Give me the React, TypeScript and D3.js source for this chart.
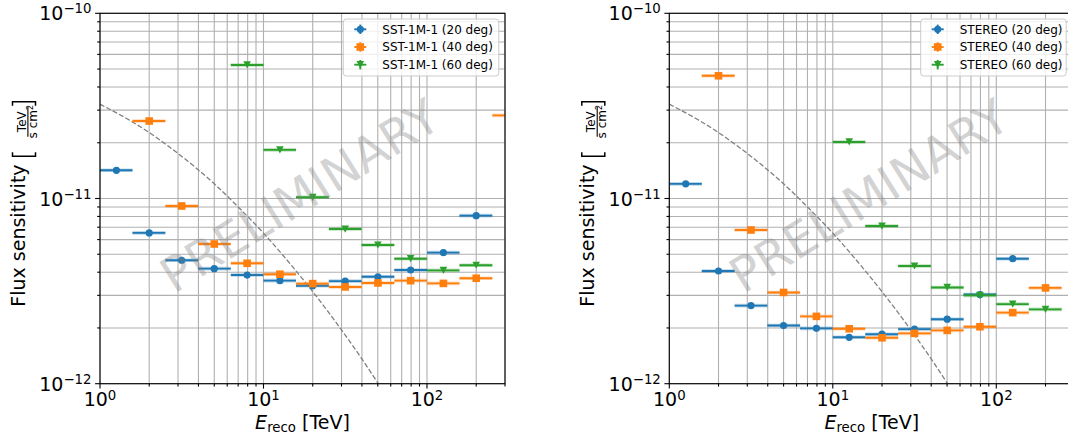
import React from "react";
import * as d3 from "d3";

// ---------- data ----------
const binCenter = [1.26, 2.0, 3.16, 5.0, 7.94, 12.6, 20.0, 31.6, 50.1, 79.4, 126, 200, 316];
const binLow = [1.0, 1.58, 2.51, 3.98, 6.31, 10.0, 15.8, 25.1, 39.8, 63.1, 100, 158, 251];
const binHigh = [1.58, 2.51, 3.98, 6.31, 10.0, 15.8, 25.1, 39.8, 63.1, 100, 158, 251, 398];

const sst20 = [1.42e-11, 6.52e-12, 4.64e-12, 4.18e-12, 3.86e-12, 3.6e-12, 3.38e-12, 3.58e-12, 3.78e-12, 4.11e-12, 5.1e-12, 8.08e-12, null];
const sst40 = [null, 2.62e-11, 9.11e-12, 5.68e-12, 4.47e-12, 3.9e-12, 3.47e-12, 3.33e-12, 3.5e-12, 3.6e-12, 3.48e-12, 3.71e-12, 2.81e-11];
const sst60 = [null, null, null, null, 5.26e-11, 1.83e-11, 1.015e-11, 6.84e-12, 5.61e-12, 4.73e-12, 4.09e-12, 4.36e-12, null];

const stereo20 = [1.2e-11, 4.06e-12, 2.64e-12, 2.06e-12, 1.99e-12, 1.78e-12, 1.85e-12, 1.97e-12, 2.23e-12, 3.03e-12, 4.73e-12, null, null];
const stereo40 = [null, 4.6e-11, 6.76e-12, 3.11e-12, 2.31e-12, 1.98e-12, 1.77e-12, 1.87e-12, 1.94e-12, 2.03e-12, 2.42e-12, 3.29e-12, null];
const stereo60 = [null, null, null, null, null, 2.02e-11, 7.1e-12, 4.32e-12, 3.31e-12, 3.0e-12, 2.69e-12, 2.52e-12, null];

const sstLabels = ["SST-1M-1 (20 deg)", "SST-1M-1 (40 deg)", "SST-1M-1 (60 deg)"];
const stereoLabels = ["STEREO (20 deg)", "STEREO (40 deg)", "STEREO (60 deg)"];

// dashed reference curve
const refEnergy = [1, 1.5, 2, 3, 5, 7, 10, 15, 20, 30, 40, 50, 60];
const refFlux = [3.23e-11, 2.66e-11, 2.27e-11, 1.75e-11, 1.2e-11, 9.0e-12, 6.5e-12, 4.3e-12, 3.14e-12, 1.95e-12, 1.36e-12, 1.01e-12, 7.9e-13];

const xMajor = [1, 10, 100];
const xMajorExp = ["0", "1", "2"];
const xMinor = [2, 3, 4, 5, 6, 7, 8, 9, 20, 30, 40, 50, 60, 70, 80, 90, 200, 300];
const yMajor = [1e-12, 1e-11, 1e-10];
const yMajorExp = ["\u221212", "\u221211", "\u221210"];
const yMinor = [2e-12, 3e-12, 4e-12, 5e-12, 6e-12, 7e-12, 8e-12, 9e-12, 2e-11, 3e-11, 4e-11, 5e-11, 6e-11, 7e-11, 8e-11, 9e-11];

// ---------- style ----------
const W = 1068;
const H = 438;
const Y_TOP = 13.3;
const Y_BOTTOM = 383.7;
const COLORS = ["#1f77b4", "#ff7f0e", "#2ca02c"];
const KINDS = ["circle", "square", "tri"];
const FONT = "'DejaVu Sans', sans-serif";
const GRID = "#b0b0b0";

function Marker({ kind, cx, cy, color }: { kind: string; cx: number; cy: number; color: string }) {
  if (kind === "circle") return <circle cx={cx} cy={cy} r={3.6} fill={color} />;
  if (kind === "square") return <rect x={cx - 3.8} y={cy - 3.8} width={7.6} height={7.6} fill={color} />;
  const w = 3.8;
  const h = 3.6;
  return <path d={`M${cx - w},${cy - h}L${cx + w},${cy - h}L${cx},${cy + h}Z`} fill={color} />;
}

type PanelProps = {
  left: number;
  right: number;
  series: (number | null)[][];
  labels: string[];
  legendX: number;
  legendW: number;
  id: string;
};

function Panel({ left, right, series, labels, legendX, legendW, id }: PanelProps) {
  const x = d3.scaleLog().domain([1, 300]).range([left, right]);
  const y = d3.scaleLog().domain([1e-12, 1e-10]).range([Y_BOTTOM, Y_TOP]);
  const cx = (left + right) / 2;
  const cy = (Y_TOP + Y_BOTTOM) / 2;
  const line = d3
    .line<number>()
    .x((_, i) => x(refEnergy[i]))
    .y((d) => y(d))
    .curve(d3.curveMonotoneX);
  const [d0, d1] = x.domain();

  return (
    <g fontFamily={FONT}>
      <defs>
        <clipPath id={id}>
          <rect x={left} y={Y_TOP} width={right - left} height={Y_BOTTOM - Y_TOP} />
        </clipPath>
      </defs>
      {/* grid */}
      <g stroke={GRID} strokeWidth={1.1}>
        {[...xMajor, ...xMinor]
          .filter((v) => v >= d0 && v <= d1)
          .map((v) => (
            <line key={"gx" + v} x1={x(v)} x2={x(v)} y1={Y_TOP} y2={Y_BOTTOM} />
          ))}
        {[...yMajor, ...yMinor].map((v) => (
          <line key={"gy" + v} x1={left} x2={right} y1={y(v)} y2={y(v)} />
        ))}
      </g>
      <g clipPath={`url(#${id})`}>
        <path d={line(refFlux) || ""} fill="none" stroke="#808080" strokeWidth={1.3} strokeDasharray="5,2.2" />
        {series.map((vals, si) => (
          <g key={si}>
            {vals.map((v, i) =>
              v == null ? null : (
                <g key={i}>
                  <line
                    x1={x(binLow[i])}
                    x2={x(binHigh[i])}
                    y1={y(v)}
                    y2={y(v)}
                    stroke={COLORS[si]}
                    strokeOpacity={0.3}
                    strokeWidth={3.6}
                  />
                  <line x1={x(binLow[i])} x2={x(binHigh[i])} y1={y(v)} y2={y(v)} stroke={COLORS[si]} strokeWidth={1.9} />
                  <Marker kind={KINDS[si]} cx={x(binCenter[i])} cy={y(v)} color={COLORS[si]} />
                </g>
              )
            )}
          </g>
        ))}
        <text
          x={cx - 3}
          y={cy - 3}
          dy="0.36em"
          transform={`rotate(-32 ${cx - 3} ${cy - 3})`}
          textAnchor="middle"
          fontSize={48}
          fill="#808080"
          fillOpacity={0.35}
        >
          PRELIMINARY
        </text>
      </g>
      {/* spines */}
      <rect x={left} y={Y_TOP} width={right - left} height={Y_BOTTOM - Y_TOP} fill="none" stroke="#000" strokeWidth={1.1} />
      {/* ticks */}
      <g stroke="#000" strokeWidth={1.1}>
        {xMajor.map((v) => (
          <line key={"tx" + v} x1={x(v)} x2={x(v)} y1={Y_BOTTOM} y2={Y_BOTTOM + 4.9} />
        ))}
        {xMinor
          .filter((v) => v >= d0 && v <= d1)
          .map((v) => (
            <line key={"mx" + v} x1={x(v)} x2={x(v)} y1={Y_BOTTOM} y2={Y_BOTTOM + 2.8} />
          ))}
        {yMajor.map((v) => (
          <line key={"ty" + v} x1={left - 4.9} x2={left} y1={y(v)} y2={y(v)} />
        ))}
        {yMinor.map((v) => (
          <line key={"my" + v} x1={left - 2.8} x2={left} y1={y(v)} y2={y(v)} />
        ))}
      </g>
      {xMajor.map((v, i) => (
        <text key={"lx" + v} x={x(v)} y={Y_BOTTOM + 22.3} textAnchor="middle" fontSize={19}>
          10
          <tspan dy={-6} fontSize={13.3}>
            {xMajorExp[i]}
          </tspan>
        </text>
      ))}
      {yMajor.map((v, i) => (
        <text key={"ly" + v} x={left - 8.5} y={y(v) + 7} textAnchor="end" fontSize={19}>
          10
          <tspan dy={-7} fontSize={13.3}>
            {yMajorExp[i]}
          </tspan>
        </text>
      ))}
      {/* x label */}
      <text x={cx} y={429} textAnchor="middle" fontSize={19}>
        <tspan fontStyle="italic">E</tspan>
        <tspan fontSize={13.3} dy={3}>
          reco
        </tspan>
        <tspan dy={-3}> [TeV]</tspan>
      </text>
      {/* y label */}
      <g transform={`translate(${left - 75},306.7) rotate(-90)`}>
        <text x={0} y={0} fontSize={19}>
          Flux sensitivity
        </text>
        <path d="M154.5,-12.5H150.5V10.5H154.5" fill="none" stroke="#000" strokeWidth={1.5} />
        <text x={185} y={0.8} fontSize={12} textAnchor="middle">
          TeV
        </text>
        <line x1={170} x2={200} y1={2.9} y2={2.9} stroke="#000" strokeWidth={1.1} />
        <text x={185} y={12} fontSize={12} textAnchor="middle">
          s cm
          <tspan dy={-4} fontSize={8}>
            2
          </tspan>
        </text>
        <path d="M201,-12.5H205V10.5H201" fill="none" stroke="#000" strokeWidth={1.5} />
      </g>
      {/* legend */}
      <g>
        <rect
          x={legendX}
          y={19}
          width={legendW}
          height={57}
          rx={3}
          fill="#fff"
          fillOpacity={0.8}
          stroke="#cccccc"
          strokeWidth={1}
        />
        {labels.map((lab, i) => {
          const ry = 29.3 + i * 17.7;
          const hx = legendX + 17;
          return (
            <g key={lab}>
              <line x1={hx - 6} x2={hx + 6} y1={ry} y2={ry} stroke={COLORS[i]} strokeWidth={1.9} />
              <line x1={hx} x2={hx} y1={ry - 4.7} y2={ry + 4.7} stroke={COLORS[i]} strokeWidth={1.9} />
              <Marker kind={KINDS[i]} cx={hx} cy={ry} color={COLORS[i]} />
              <text x={legendX + 39} y={ry + 4.3} fontSize={12}>
                {lab}
              </text>
            </g>
          );
        })}
      </g>
    </g>
  );
}

export default function App() {
  return (
    <svg width={W} height={H} style={{ position: "absolute", left: 0, top: 0, background: "#fff" }}>
      <rect x={0} y={0} width={W} height={H} fill="#fff" />
      <Panel left={100} right={505} series={[sst20, sst40, sst60]} labels={sstLabels} legendX={343.3} legendW={155.5} id="clipL" />
      <Panel
        left={669.3}
        right={1074.3}
        series={[stereo20, stereo40, stereo60]}
        labels={stereoLabels}
        legendX={920.7}
        legendW={145.5}
        id="clipR"
      />
    </svg>
  );
}
